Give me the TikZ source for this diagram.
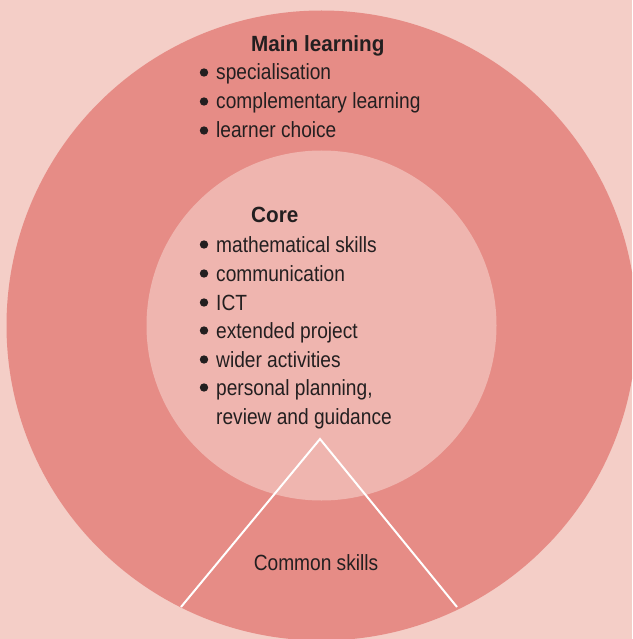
\documentclass[tikz,border=0pt]{standalone}
\usepackage{fontspec}
\setmainfont{Liberation Sans}[FakeStretch=0.87, BoldFeatures={FakeStretch=0.94}]
\definecolor{bgpink}{HTML}{F4CEC7}
\definecolor{ringred}{HTML}{E68C86}
\definecolor{corepink}{HTML}{EFB5AF}
\definecolor{inkdark}{HTML}{231F20}
\tikzset{
  txt/.style={inner sep=0pt, anchor=base west, text=inkdark, font=\fontsize{22}{26}\selectfont},
  head/.style={txt, font=\fontsize{22}{26}\selectfont\bfseries},
  bul/.style={fill=inkdark},
  sepline/.style={draw=white, line width=2pt}
}
\begin{document}
\begin{tikzpicture}[x=1pt,y=-1pt]
\useasboundingbox (0,0) rectangle (632,639);
\fill[bgpink] (0,0) rectangle (632,639);
\begin{scope}
\clip (0,0) rectangle (632,639);
\fill[ringred] (321.5,325.5) circle[radius=315];
\fill[corepink] (321.5,325.5) circle[radius=175];
\end{scope}
% separator lines
\coordinate (apex) at (320,439);
\coordinate (lend) at (181,607);
\coordinate (rend) at (457,607);
\draw[sepline] (lend) -- (apex) -- (rend);
% main learning
\node[head] (mainh) at (251,52) {Main learning};
\node[txt] (m1) at (216,80) {specialisation};
\node[txt] (m2) at (216,109) {complementary learning};
\node[txt] (m3) at (216,138) {learner choice};
\foreach \y in {80,109,138} \fill[bul] (204,\y-7.5) circle[radius=4.2];
% core
\node[head] (coreh) at (251,222) {Core};
\node[txt] (c1) at (216,252) {mathematical skills};
\node[txt] (c2) at (216,281) {communication};
\node[txt] (c3) at (216,310) {ICT};
\node[txt] (c4) at (216,338) {extended project};
\node[txt] (c5) at (216,367) {wider activities};
\node[txt] (c6) at (216,395) {personal planning,};
\node[txt] (c7) at (216,424) {review and guidance};
\foreach \y in {252,281,310,338,367,395} \fill[bul] (204,\y-7.5) circle[radius=4.2];
% common skills
\node[txt, anchor=base] (common) at (316,570) {Common skills};
\end{tikzpicture}
\end{document}
